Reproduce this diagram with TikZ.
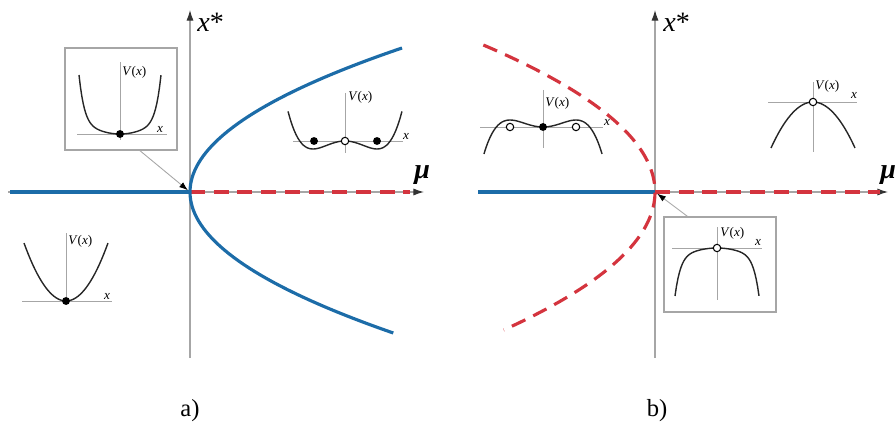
\documentclass[tikz,border=0pt]{standalone}
\usepackage{fontspec}
\setmainfont{Liberation Serif}
\usepackage{tikz}
\usetikzlibrary{arrows.meta}

\definecolor{stableblue}{RGB}{28,108,168}
\definecolor{unstablered}{RGB}{212,52,62}
\newcommand{\Vofx}{\textit{V}(\textit{x})}

\begin{document}
\begin{tikzpicture}[x=0.02cm, y=-0.02cm,
    axis/.style={gray!70, line width=0.5pt},
    mainaxis/.style={gray!70, line width=0.6pt, -{Latex[length=6pt, width=4pt, black!80]}},
    stable/.style={stableblue, line width=1.8pt},
    unstable/.style={unstablered, line width=1.8pt, dash pattern=on 8.5pt off 5pt},
    potential/.style={black!85, line width=0.8pt},
    fulldot/.style={circle, fill=black, inner sep=0pt, minimum size=4.5pt},
    opendot/.style={circle, draw=black, fill=white, line width=0.6pt, inner sep=0pt, minimum size=4.2pt},
    lbl/.style={font=\fontsize{7.5}{9}\selectfont, inner sep=0pt},
    inset/.style={draw=gray!70, line width=0.6pt, minimum width=2.24cm},
    pointer/.style={gray!70, line width=0.5pt, shorten >=1.5pt, -{Latex[length=5pt, width=3.5pt, black]}},
    axlabel/.style={font=\fontsize{16}{18}\selectfont, inner sep=0pt},
    caption/.style={font=\fontsize{14}{16}\selectfont, inner sep=0pt}
]
\useasboundingbox (0,0) rectangle (895,442);
%% ============================================================
%% PANEL (a): supercritical pitchfork
%% ============================================================
\coordinate (oa) at (190,192);
\draw[mainaxis] (190,358) -- (190,10);
\draw[mainaxis] (8,192) -- (424,192);
\node[axlabel, anchor=west] (xa) at (197,22) {\textit{x}*};
\node[axlabel, anchor=west] (mua) at (414,175) {\bfseries\itshape μ};
\draw[stable] (10,192) -- (oa);
\draw[unstable] (oa) -- (410,192);
\draw[stable] plot[domain=-144:141, samples=80] ({190+212*(\x/144)*(\x/144)}, {192+\x});
%% boxed inset: flat single well at mu = 0
\node[inset, minimum height=2.04cm] (boxa) at (121,99) {};
\draw[pointer] (boxa.-70) -- (oa);
\begin{scope}[shift={(120,134)}]
\draw[axis] (-43,0) -- (47,0);
\draw[axis] (0,-72) -- (0,6);
\draw[potential] plot[domain=-1:1, samples=60] ({41*\x}, {-59*(0.25*\x*\x+0.75*(\x*\x)^4)});
\node[fulldot] (a1) at (0,0) {};
\node[lbl, anchor=west] (a1V) at (2,-62) {\Vofx};
\node[lbl, anchor=south] (a1x) at (40,-1) {\textit{x}};
\end{scope}
%% single well for mu < 0
\begin{scope}[shift={(66,301)}]
\draw[axis] (-44,0) -- (46,0);
\draw[axis] (0,-68) -- (0,4);
\draw[potential] plot[domain=-1:1, samples=40] ({42*\x}, {-58*\x*\x});
\node[fulldot] (a2) at (0,0) {};
\node[lbl, anchor=west] (a2V) at (2,-60) {\Vofx};
\node[lbl, anchor=south] (a2x) at (41,-1) {\textit{x}};
\end{scope}
%% double well for mu > 0
\begin{scope}[shift={(345,141)}]
\draw[axis] (-52,0) -- (58,0);
\draw[axis] (0,-48) -- (0,12);
\draw[potential] plot[domain=-1.78:1.78, samples=60] ({32*\x}, {-8*((\x*\x)*(\x*\x)-2*\x*\x)});
\node[fulldot] (a3l) at (-31,0) {};
\node[fulldot] (a3r) at (32,0) {};
\node[opendot] (a3c) at (0,0) {};
\node[lbl, anchor=west] (a3V) at (3,-44) {\Vofx};
\node[lbl, anchor=south] (a3x) at (61,-1) {\textit{x}};
\end{scope}
\node[caption] (capa) at (190,411) {a)};
%% ============================================================
%% PANEL (b): subcritical pitchfork
%% ============================================================
\coordinate (ob) at (655,192);
\draw[mainaxis] (655,358) -- (655,10);
\draw[mainaxis] (478,192) -- (888,192);
\node[axlabel, anchor=west] (xb) at (663,22) {\textit{x}*};
\node[axlabel, anchor=west] (mub) at (880,175) {\bfseries\itshape μ};
\draw[stable] (478,192) -- (ob);
\draw[unstable] (ob) -- (880,192);
\draw[unstable] plot[domain=-147:138, samples=80] ({655-167*(\x/145)*(\x/145)}, {192+\x});
%% inverted double well for mu < 0
\begin{scope}[shift={(543,127)}]
\draw[axis] (-63,0) -- (60,0);
\draw[axis] (0,-37) -- (0,21);
\draw[potential] plot[domain=-1.79:1.79, samples=60] ({33*\x}, {7*((\x*\x)*(\x*\x)-2*\x*\x)});
\node[opendot] (b1l) at (-33,0) {};
\node[opendot] (b1r) at (33,0) {};
\node[fulldot] (b1c) at (0,0) {};
\node[lbl, anchor=west] (b1V) at (2,-24) {\Vofx};
\node[lbl, anchor=south] (b1x) at (64,-1) {\textit{x}};
\end{scope}
%% inverted single well for mu > 0
\begin{scope}[shift={(813,102)}]
\draw[axis] (-45,0) -- (44,0);
\draw[axis] (0,-20) -- (0,50);
\draw[potential] plot[domain=-1:1, samples=40] ({42*\x}, {46*\x*\x});
\node[opendot] (b2) at (0,0) {};
\node[lbl, anchor=west] (b2V) at (2,-16) {\Vofx};
\node[lbl, anchor=south] (b2x) at (41,-3) {\textit{x}};
\end{scope}
%% boxed inset: flat inverted well at mu = 0
\node[inset, minimum height=1.9cm] (boxb) at (720,264.5) {};
\draw[pointer] (boxb.124) -- (ob);
\begin{scope}[shift={(717,248)}]
\draw[axis] (-45,0) -- (45,0);
\draw[axis] (0,-21) -- (0,52);
\draw[potential] plot[domain=-1:1, samples=60] ({42*\x}, {48*(0.25*\x*\x+0.75*(\x*\x)^4)});
\node[opendot] (b3) at (0,0) {};
\node[lbl, anchor=west] (b3V) at (3,-15) {\Vofx};
\node[lbl, anchor=south] (b3x) at (41,-2) {\textit{x}};
\end{scope}
\node[caption] (capb) at (657,411) {b)};
\end{tikzpicture}
\end{document}
